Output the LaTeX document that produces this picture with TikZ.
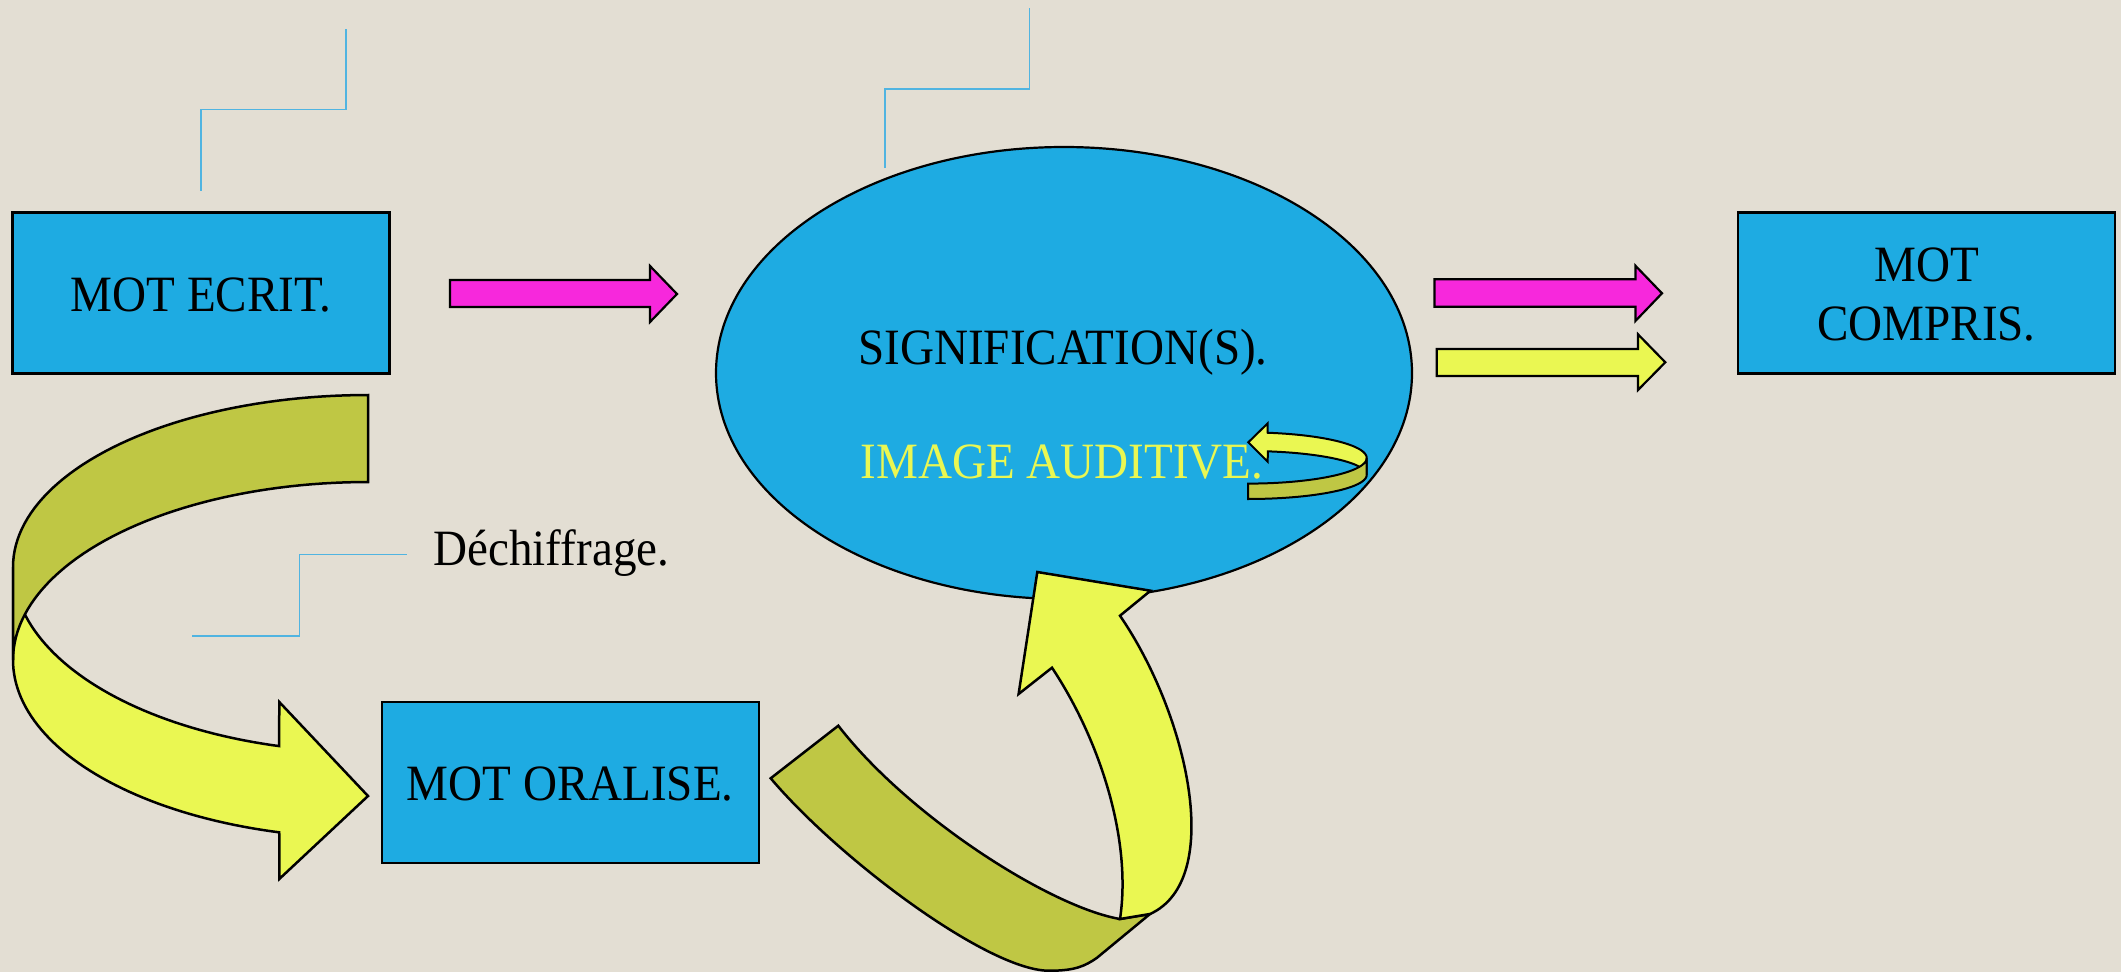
\documentclass[tikz,border=0pt]{standalone}
\usepackage{fontspec}
\setmainfont{Liberation Serif}[FakeStretch=0.925]
\usetikzlibrary{shapes.geometric}
\definecolor{bg}{RGB}{227,222,211}
\definecolor{boxblue}{RGB}{30,171,226}
\definecolor{magentaA}{RGB}{247,40,220}
\definecolor{yellowA}{RGB}{234,247,82}
\definecolor{oliveA}{RGB}{191,199,68}
\definecolor{callblue}{RGB}{80,180,225}
\tikzset{
  box/.style={draw=black, line width=2.5pt, fill=boxblue, inner sep=0pt, minimum width=377pt, minimum height=161pt},
  lbl/.style={font=\fontsize{50.9}{58.3}\selectfont, inner sep=0pt, anchor=base},
  callout/.style={draw=callblue, line width=1.6pt},
  blockarrow/.style={draw=black, line width=2.2pt, line join=miter},
  ribbon/.style={draw=black, line width=2.5pt, line join=miter},
  ribbonthin/.style={draw=black, line width=2pt, line join=miter}
}
\begin{document}
\begin{tikzpicture}[x=1pt,y=-1pt]
\useasboundingbox (0,0) rectangle (2121,972);
\fill[bg] (0,0) rectangle (2121,972);

% callout lines
\coordinate (c1a) at (200.9,190.7);
\coordinate (c1b) at (346,29.3);
\draw[callout] (c1a) -- (200.9,109.3) -- (346,109.3) -- (c1b);
\coordinate (c2a) at (885,168);
\coordinate (c2b) at (1029.6,7.9);
\draw[callout] (c2a) -- (885,88.9) -- (1029.6,88.9) -- (c2b);
\coordinate (c3a) at (192,635.7);
\coordinate (c3b) at (406.7,554.5);
\draw[callout] (c3a) -- (299.3,635.7) -- (299.3,554.5) -- (c3b);

% boxes
\node[box] (ecritbox) at (201.2,293) {};
\node[box] (comprisbox) at (1926.5,292.8) {};
\node[box] (oralbox) at (570.25,782.5) {};
\node[ellipse, draw=black, line width=2.2pt, fill=boxblue, inner sep=0pt,
      minimum width=696pt, minimum height=452pt] (sig) at (1064,373) {};

% texts
\node[lbl] (ecrit) at (201.2,311) {MOT ECRIT.};
\node[lbl] (mot) at (1926.5,281.7) {MOT};
\node[lbl] (compris) at (1926.5,340) {COMPRIS.};
\node[lbl] (oral) at (570.25,800) {MOT ORALISE.};
\node[lbl] (signif) at (1063,364) {SIGNIFICATION(S).};
\node[lbl, text=yellowA] (image) at (1062,478) {IMAGE AUDITIVE.};
\node[lbl, anchor=base west] (dechif) at (433.3,565.7) {Déchiffrage.};

% straight block arrows
\filldraw[blockarrow, fill=magentaA] (450,280) -- (650,280) -- (650,266) -- (677,294) -- (650,322) -- (650,307) -- (450,307) -- cycle;
\filldraw[blockarrow, fill=magentaA] (1434.5,279.3) -- (1635.4,279.3) -- (1635.4,265.7) -- (1662,293.3) -- (1635.4,321) -- (1635.4,306.7) -- (1434.5,306.7) -- cycle;
\filldraw[blockarrow, fill=yellowA] (1436.8,349) -- (1638,349) -- (1638,334.3) -- (1665.3,362.3) -- (1638,390) -- (1638,376) -- (1436.8,376) -- cycle;

% big left curved arrow
\filldraw[ribbon, fill=yellowA] plot[domain=180:104.5, samples=50] ({368+355*cos(\x)},{567+185*sin(\x)})
  -- (279.3,702) -- (368,796) -- (279.3,879) -- (279.3,834)
  -- plot[domain=104.5:180, samples=50] ({368+355*cos(\x)},{660+178*sin(\x)}) -- cycle;
\filldraw[ribbon, fill=oliveA] (368,395)
  -- plot[domain=90:180, samples=50] ({368+355*cos(\x)},{567-172*sin(\x)})
  -- (13,660)
  -- plot[domain=180:90, samples=50] ({368+355*cos(\x)},{660-178*sin(\x)}) -- cycle;

% bottom curved arrow
\filldraw[ribbon, fill=oliveA] (770.7,778.3) -- (838.3,725.7)
  .. controls (908,816) and (1050,907) .. (1120,919) -- (1150,914) -- (1096.7,958)
  .. controls (1085,966) and (1075,970.7) .. (1050,970.7)
  .. controls (990,972) and (840,860) .. (770.7,778.3) -- cycle;
\filldraw[ribbon, fill=yellowA] (1120,919)
  .. controls (1132,840) and (1100,740) .. (1052,667.7)
  -- (1018.6,694) -- (1037.3,572) -- (1150.5,590.7) -- (1120,615.7)
  .. controls (1188,715) and (1225,880) .. (1150,914) -- cycle;

% small circular arrow
\filldraw[ribbonthin, fill=yellowA] (1267.7,432.7)
  -- plot[domain=80.4:0, samples=30] ({1248+118.7*cos(\x)},{458-25.6*sin(\x)})
  -- plot[domain=0:80.4, samples=30] ({1248+118.7*cos(\x)},{475-24*sin(\x)})
  -- (1267.7,461.7) -- (1248.3,442.3) -- (1267.7,423.3) -- cycle;
\filldraw[ribbonthin, fill=oliveA] plot[domain=0:-90, samples=30] ({1248+118.7*cos(\x)},{458-25.6*sin(\x)})
  -- (1248,499)
  -- plot[domain=-90:0, samples=30] ({1248+118.7*cos(\x)},{475-24*sin(\x)}) -- cycle;
\end{tikzpicture}
\end{document}
